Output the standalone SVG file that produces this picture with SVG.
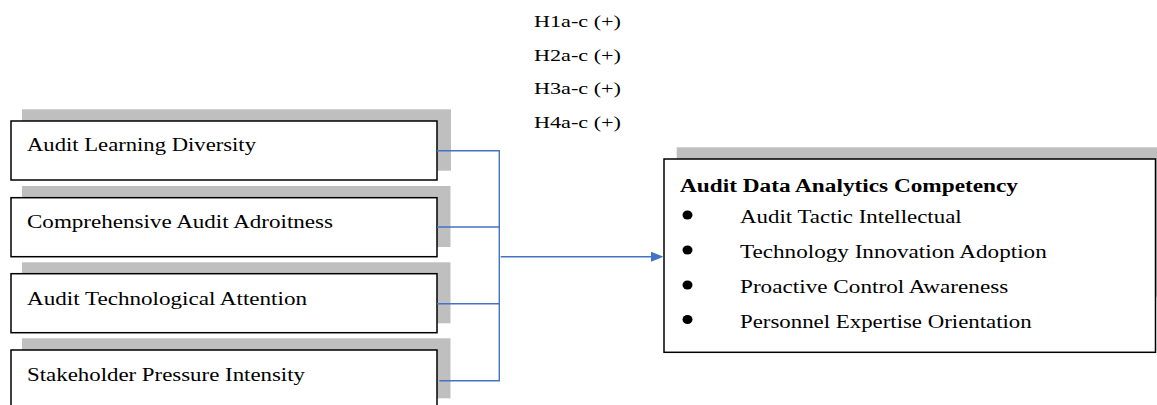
<svg xmlns="http://www.w3.org/2000/svg" width="1157" height="405" viewBox="0 0 1157 405">
<style>
text{font-family:"Liberation Serif","Times New Roman",serif;fill:#000}
.lbl{font-size:19px}
.hyp{font-size:17.5px}
.item{font-size:18.5px}
.title{font-size:18.5px;font-weight:bold}
.shadow{fill:#bfbfbf}
.box{fill:#fff;stroke:#000;stroke-width:1.5}
.conn{fill:none;stroke:#4472c4;stroke-width:1.4}
</style>
<rect width="1157" height="405" fill="#fff"/>
<g id="hypotheses">
<text class="hyp" x="534" y="27" textLength="87" lengthAdjust="spacingAndGlyphs">H1a-c (+)</text>
<text class="hyp" x="534" y="60.5" textLength="87" lengthAdjust="spacingAndGlyphs">H2a-c (+)</text>
<text class="hyp" x="534" y="94" textLength="87" lengthAdjust="spacingAndGlyphs">H3a-c (+)</text>
<text class="hyp" x="534" y="127.5" textLength="87" lengthAdjust="spacingAndGlyphs">H4a-c (+)</text>
</g>
<g id="node-ald">
<rect class="shadow" x="22" y="109.3" width="429" height="61.4"/>
<rect class="box" x="11" y="121" width="426" height="59"/>
<text class="lbl" x="27" y="151" textLength="229" lengthAdjust="spacingAndGlyphs">Audit Learning  Diversity</text>
</g>
<g id="node-caa">
<rect class="shadow" x="22" y="186" width="428.5" height="61"/>
<rect class="box" x="11" y="197.7" width="426" height="59"/>
<text class="lbl" x="27" y="228" textLength="306" lengthAdjust="spacingAndGlyphs">Comprehensive  Audit Adroitness</text>
</g>
<g id="node-ata">
<rect class="shadow" x="22" y="262.3" width="428.5" height="61"/>
<rect class="box" x="11" y="273.7" width="426" height="59"/>
<text class="lbl" x="27" y="304.7" textLength="280" lengthAdjust="spacingAndGlyphs">Audit Technological  Attention</text>
</g>
<g id="node-spi">
<rect class="shadow" x="22" y="338.3" width="428.5" height="60"/>
<rect class="box" x="11" y="350" width="426" height="62"/>
<text class="lbl" x="27" y="381.3" textLength="278" lengthAdjust="spacingAndGlyphs">Stakeholder  Pressure Intensity</text>
</g>
<g id="node-adac">
<rect class="shadow" x="676.7" y="147.3" width="480.3" height="150"/>
<rect class="box" x="664" y="159" width="491.5" height="193.3"/>
<text class="title" x="680" y="191.5" textLength="338" lengthAdjust="spacingAndGlyphs">Audit Data Analytics Competency</text>
<ellipse cx="687.5" cy="215" rx="5" ry="4.5"/>
<ellipse cx="687.5" cy="250" rx="5" ry="4.5"/>
<ellipse cx="687.5" cy="285" rx="5" ry="4.5"/>
<ellipse cx="687.5" cy="319.5" rx="5" ry="4.5"/>
<text class="item" x="740" y="223.3" textLength="221.7" lengthAdjust="spacingAndGlyphs">Audit Tactic Intellectual</text>
<text class="item" x="740" y="258.3" textLength="306.7" lengthAdjust="spacingAndGlyphs">Technology  Innovation Adoption</text>
<text class="item" x="740" y="293.3" textLength="268.3" lengthAdjust="spacingAndGlyphs">Proactive Control Awareness</text>
<text class="item" x="740" y="327.7" textLength="291.7" lengthAdjust="spacingAndGlyphs">Personnel Expertise Orientation</text>
</g>
<g id="connectors">
<path class="conn" d="M437 150.7H499.3V380.7H439.3"/>
<path class="conn" d="M437 227H499.3"/>
<path class="conn" d="M437 303.7H499.3"/>
<path class="conn" d="M500.7 256.7H652"/>
<polygon points="651,251.7 663.5,256.7 651,261.7" fill="#4472c4"/>
</g>
</svg>
